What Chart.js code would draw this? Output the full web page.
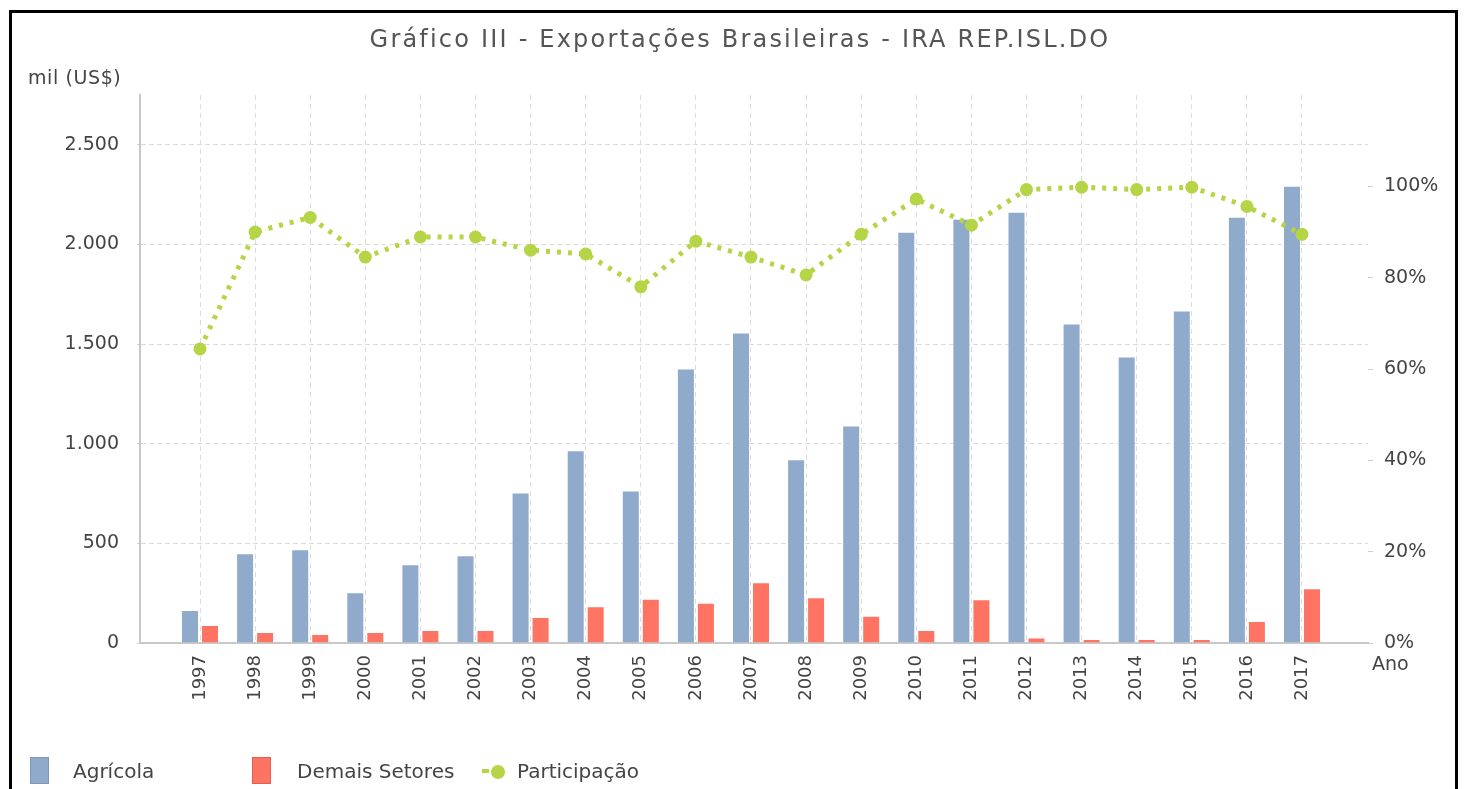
<!DOCTYPE html>
<html>
<head>
<meta charset="utf-8">
<script src="https://cdn.jsdelivr.net/npm/chart.js@4"></script>
<style>
  body { margin: 0; background: #fff; font-family: "DejaVu Sans", sans-serif; }
  #wrap { position: absolute; left: 0; top: 0; width: 1466px; height: 789px; }
  #frame { position: absolute; left: 9px; top: 10px; width: 1443px; height: 800px; border: 3px solid #000; border-bottom: none; }
  .txt { position: absolute; color: #444; white-space: nowrap; line-height: 1; }
  .box { position: absolute; width: 19px; height: 27px; box-sizing: border-box; }
  #titulo { position: absolute; left: 0; width: 1480px; top: 27px; text-align: center; font-size: 24px; letter-spacing: 2.2px; color: #555; line-height: 1; white-space: nowrap; }
</style>
</head>
<body>
<div id="wrap">
  <div id="frame"></div>
  <canvas id="chartcontainer"></canvas>
  <div id="titulo">Gráfico III - Exportações Brasileiras - IRA REP.ISL.DO</div>
  <div class="txt" style="left:28px; top:68px; font-size:19px; letter-spacing:0.6px;">mil (US$)</div>
  <div class="txt" style="left:1372px; top:654px; font-size:19px;">Ano</div>
  <!-- legenda -->
  <div class="box" style="left:30px; top:757px; background:#8faacb; border:1px solid #7d97b8;"></div>
  <div class="txt" style="left:73px; top:761px; font-size:20px;">Agrícola</div>
  <div class="box" style="left:252px; top:757px; background:#ff7362; border:1px solid #e0604f;"></div>
  <div class="txt" style="left:297px; top:761px; font-size:20px;">Demais Setores</div>
  <div style="position:absolute; left:482px; top:769px; width:7px; height:4px; background:#b5d446;"></div>
  <div style="position:absolute; left:491px; top:765px; width:14px; height:14px; border-radius:50%; background:#b5d446;"></div>
  <div class="txt" style="left:517px; top:761px; font-size:20px;">Participação</div>
</div>
<script>
var anos = [1997, 1998, 1999, 2000, 2001, 2002, 2003, 2004, 2005, 2006, 2007,
            2008, 2009, 2010, 2011, 2012, 2013, 2014, 2015, 2016, 2017];
// mil US$
var agricola = [165, 450, 470, 255, 395, 440, 755, 967, 765, 1378, 1558,
                922, 1092, 2064, 2129, 2164, 1603, 1438, 1668, 2139, 2295];
var demais = [90, 55, 45, 55, 65, 65, 130, 185, 222, 202, 305,
              230, 137, 65, 220, 27, 20, 20, 20, 110, 275];
// % agricola no total
var participacao = [64.4, 90.0, 93.2, 84.5, 88.9, 88.9, 86.0, 85.2, 78.0, 88.0, 84.5,
                    80.6, 89.5, 97.2, 91.5, 99.3, 99.8, 99.3, 99.8, 95.6, 89.5];
var ticksEsq = [0, 500, 1000, 1500, 2000, 2500];
var ticksDir = [0, 20, 40, 60, 80, 100];

function pontos(serie) {
    return anos.map(function (a, i) { return { x: a, y: serie[i] }; });
}

function milhar(v) {
    if (v < 1000) return String(v);
    return Math.floor(v / 1000) + '.' + String(v % 1000).padStart(3, '0');
}

Chart.defaults.font.family = 'DejaVu Sans';
Chart.defaults.font.size = 19;
Chart.defaults.color = '#444';

var canvas = document.getElementById('chartcontainer');
canvas.width = 1466;
canvas.height = 789;

var chart = new Chart(canvas.getContext('2d'), {
    type: 'bar',
    data: {
        datasets: [
            {
                type: 'line',
                label: 'Participação',
                data: pontos(participacao),
                yAxisID: 'y1',
                order: 0,
                borderColor: '#b5d446',
                backgroundColor: '#b5d446',
                borderWidth: 5,
                borderDash: [4, 7],
                pointRadius: 6.5,
                pointBorderWidth: 0,
                pointBackgroundColor: '#b5d446',
                tension: 0
            },
            {
                label: 'Agrícola',
                data: pontos(agricola),
                yAxisID: 'y',
                order: 1,
                backgroundColor: '#8faacb',
                borderColor: 'rgba(255,255,255,0.6)',
                borderWidth: 1,
                categoryPercentage: 0.726,
                barPercentage: 0.9
            },
            {
                label: 'Demais Setores',
                data: pontos(demais),
                yAxisID: 'y',
                order: 1,
                backgroundColor: '#ff7362',
                borderColor: 'rgba(255,255,255,0.6)',
                borderWidth: 1,
                categoryPercentage: 0.726,
                barPercentage: 0.9
            }
        ]
    },
    options: {
        responsive: false,
        animation: false,
        events: [],
        layout: { padding: { top: 95 } },
        plugins: {
            legend: { display: false },
            tooltip: { enabled: false },
            title: { display: false }
        },
        scales: {
            x: {
                type: 'linear',
                offset: false,
                min: 1995.911,
                max: 2018.198,
                afterBuildTicks: function (s) {
                    s.ticks = anos.map(function (a) { return { value: a }; });
                },
                afterFit: function (s) { s.height = 146; },
                ticks: {
                    minRotation: 90,
                    maxRotation: 90,
                    padding: 12,
                    autoSkip: false,
                    font: { size: 18 },
                    callback: function (v) { return String(v); }
                },
                grid: { offset: false, color: '#dcdcdc', lineWidth: 1, drawTicks: false },
                border: { display: true, color: '#c8c8c8', width: 2, dash: [5, 4] }
            },
            y: {
                position: 'left',
                min: 0,
                max: 2750,
                afterBuildTicks: function (s) {
                    s.ticks = ticksEsq.map(function (v) { return { value: v }; });
                },
                afterFit: function (s) { s.width = 140; },
                ticks: { padding: 18, callback: function (v) { return milhar(v); } },
                grid: { color: '#dcdcdc', lineWidth: 1, tickLength: 3, tickColor: '#cfcfcf' },
                border: { display: true, color: '#c8c8c8', width: 2, dash: [5, 3] }
            },
            y1: {
                position: 'right',
                min: 0,
                max: 120,
                afterBuildTicks: function (s) {
                    s.ticks = ticksDir.map(function (v) { return { value: v }; });
                },
                afterFit: function (s) { s.width = 98; },
                ticks: { padding: 11, callback: function (v) { return v + '%'; } },
                grid: { drawOnChartArea: false, tickLength: 5, color: '#cfcfcf' },
                border: { display: false }
            }
        }
    }
});
</script>
</body>
</html>
